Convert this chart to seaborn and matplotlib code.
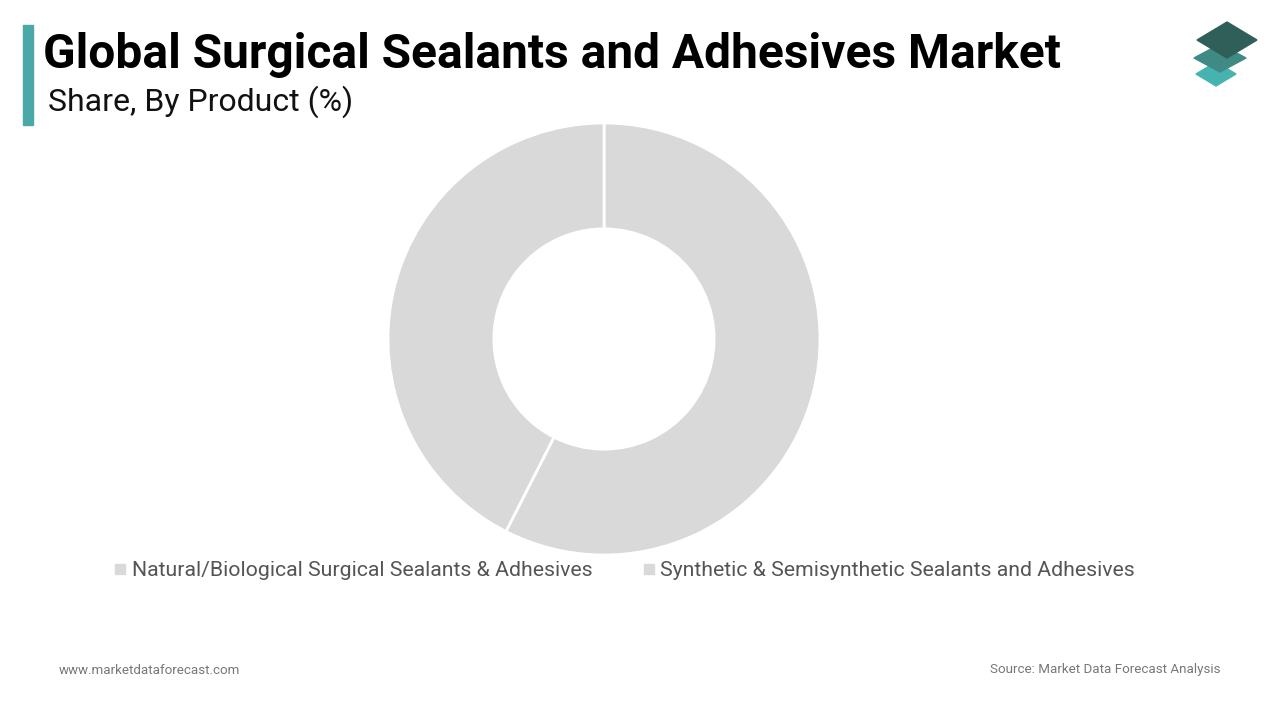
import matplotlib
matplotlib.use("Agg")
import matplotlib.pyplot as plt
import seaborn as sns
from matplotlib.patches import Polygon, Rectangle
from matplotlib.lines import Line2D

categories = ["Natural/Biological Surgical Sealants & Adhesives",
              "Synthetic & Semisynthetic Sealants and Adhesives"]
shares = [57.5, 42.5]
colors = ["#d9d9d9", "#d9d9d9"]

title = "Global Surgical Sealants and Adhesives Market"
subtitle = "Share, By Product (%)"
footer_left = "www.marketdataforecast.com"
footer_right = "Source: Market Data Forecast Analysis"

sns.set_theme(style="white")
plt.rcParams['font.family'] = ['Roboto', 'DejaVu Sans']

W, H = 1280, 720
fig = plt.figure(figsize=(12.8, 7.2), dpi=100)
fig.patch.set_facecolor("white")

# Donut
ax = fig.add_axes([(604 - 216) / W, (720 - 339 - 216) / H, 432 / W, 432 / H])
wedges, _ = ax.pie(shares, colors=colors, startangle=90, counterclock=False,
                   radius=1.0, wedgeprops=dict(width=0.49, edgecolor="white", linewidth=2))
ax.set_xlim(-1, 1)
ax.set_ylim(-1, 1)
ax.set_aspect("equal")
ax.axis("off")

# Title bar
fig.patches.append(Rectangle((23 / W, 1 - 125 / H), 10 / W, 100 / H,
                             transform=fig.transFigure, color="#4aa8a6", zorder=5))
fig.text(43 / W, 1 - 55 / H, title, fontsize=34.5, fontweight="bold", color="#000000",
         ha="left", va="center")
fig.text(48 / W, 1 - 102 / H, subtitle, fontsize=23, color="#111111",
         ha="left", va="center")

# Logo (stacked diamonds)
def diamond(cx, cy, w, h, color):
    pts = [(cx / W, 1 - (cy - h) / H), ((cx + w) / W, 1 - cy / H),
           (cx / W, 1 - (cy + h) / H), ((cx - w) / W, 1 - cy / H)]
    fig.patches.append(Polygon(pts, closed=True, transform=fig.transFigure,
                               color=color, zorder=5))

diamond(1216, 74, 20, 12, "#46b3b0")
diamond(1220, 58, 26, 14, "#3f8a84")
diamond(1227, 40, 30, 18, "#2f5f58")

# Legend
handles = [Line2D([0], [0], marker="s", linestyle="none", markersize=7,
                  markerfacecolor=c, markeredgecolor=c) for c in colors]
leg = fig.legend(handles, categories, loc="center", ncol=2,
                 bbox_to_anchor=(625 / W, 1 - 571 / H), frameon=False,
                 fontsize=15.3, handlelength=0.5, handletextpad=0.3,
                 columnspacing=2.4, labelcolor="#555555")

# Footer
fig.text(59 / W, 1 - 670 / H, footer_left, fontsize=9.6, color="#777777",
         ha="left", va="center")
fig.text(1220 / W, 1 - 670 / H, footer_right, fontsize=9.6, color="#777777",
         ha="right", va="center")

fig.savefig("out.png", dpi=100, facecolor="white")
